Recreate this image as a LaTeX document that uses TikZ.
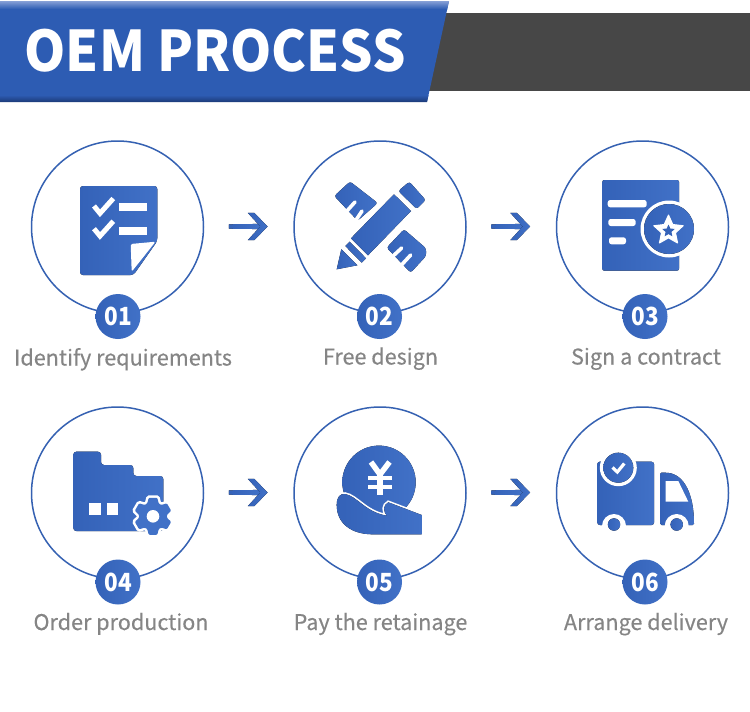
\documentclass[tikz,border=0pt]{standalone}
\usepackage{fontspec}
\setmainfont{Noto Sans CJK SC}
\newfontfamily\capfont[FakeBold=0.3]{Noto Sans CJK SC}
\usetikzlibrary{calc,shapes.geometric}
\definecolor{bluea}{HTML}{3462B8}
\definecolor{blueb}{HTML}{4171C7}
\definecolor{ringc}{HTML}{3561B2}
\definecolor{bannerc}{HTML}{2D5CB3}
\definecolor{bannertop}{HTML}{86A0D6}
\definecolor{bannerlow}{HTML}{1C3A78}
\definecolor{greybar}{HTML}{474747}
\definecolor{labelc}{HTML}{858585}
\newcommand{\gearoutline}{(-114:14) \foreach \a in {-90,-30,...,210}{ -- ({\a-24}:14) -- ({\a-13}:19) -- ({\a+13}:19) -- ({\a+24}:14) } -- cycle}
\newcommand{\handoutline}{(336.7,505) .. controls (336.7,497) and (340,493.5) .. (345,494) .. controls (357,496) and (365,512) .. (386.7,515.7) .. controls (383,511) and (383,505) .. (388.3,502.3) -- (421.7,515) -- (421.7,534.3) -- (371.7,534.3) .. controls (352,534) and (336.7,524) .. cycle}
\tikzset{
  x=1pt,y=-1pt,
  grad/.style={left color=bluea,right color=blueb,draw=none},
  ringnode/.style={circle,draw=ringc,line width=1.5pt,minimum size=172pt,inner sep=0pt,fill=white},
  badge/.style={circle,left color=bluea,right color=blueb,minimum size=45pt,inner sep=0pt,text=white,font=\fontsize{25}{28}\selectfont\bfseries},
  caption/.style={anchor=base,text=labelc,inner sep=0pt,font=\fontsize{21.6}{26}\selectfont\capfont},
  whitebar/.style={fill=white,rounded corners=2.5pt},
  whiteline/.style={draw=white,line cap=round,line join=round},
  arrowglyph/.pic={
    \fill[left color=bluea,right color=blueb] (-19.5,-2.2) -- (12,-2.6) -- (12,2.6) -- (-19.5,2.2) -- cycle;
    \fill[left color=bluea,right color=blueb] (-0.5,-13.7) -- (6,-13.7) -- (19.3,0) -- (6,13.7) -- (-0.5,13.7) -- (12,0) -- cycle;
  }
}
\begin{document}
\begin{tikzpicture}
\useasboundingbox (0,0) rectangle (750,712);
\fill[white] (0,0) rectangle (750,712);
% banner
\fill[greybar] (425,13) rectangle (750,91);
\begin{scope}
  \clip (0,1) -- (449,1) -- (427,102) -- (0,102) -- cycle;
  \fill[bannerc] (0,1) rectangle (450,102);
  \shade[top color=bannertop,bottom color=bannerc] (0,1) rectangle (450,9);
  \shade[top color=bannerc,bottom color=bannerlow] (0,95) rectangle (450,102);
\end{scope}
\node[anchor=base west,inner sep=0pt,text=white,font=\fontsize{56}{60}\selectfont\bfseries] (title) at (24.5,71.5) {\scalebox{0.938}[1]{OEM PROCESS}};
% rings
\node[ringnode] (c1) at (117.5,227) {};
\node[ringnode] (c2) at (380,227) {};
\node[ringnode] (c3) at (642.5,227) {};
\node[ringnode] (c4) at (117.5,493) {};
\node[ringnode] (c5) at (380,493) {};
\node[ringnode] (c6) at (642.5,493) {};
% badges
\node[badge] (n1) at (118,316.5) {\scalebox{0.9}[1]{01}};
\node[badge] (n2) at (379.5,316.5) {\scalebox{0.9}[1]{02}};
\node[badge] (n3) at (645,316.5) {\scalebox{0.9}[1]{03}};
\node[badge] (n4) at (118,582) {\scalebox{0.9}[1]{04}};
\node[badge] (n5) at (379.5,582) {\scalebox{0.9}[1]{05}};
\node[badge] (n6) at (645,582) {\scalebox{0.9}[1]{06}};
% captions
\node[caption] (t1) at (123,365.5) {Identify requirements};
\node[caption] (t2) at (380.5,364.5) {Free design};
\node[caption] (t3) at (646,364.5) {Sign a contract};
\node[caption] (t4) at (121,630) {Order production};
\node[caption] (t5) at (380.5,630) {Pay the retainage};
\node[caption] (t6) at (646,630) {Arrange delivery};
% arrows
\pic at ($(c1)!0.5!(c2)+(-0.5,-0.5)$) {arrowglyph};
\pic at ($(c2)!0.5!(c3)+(-0.5,-0.5)$) {arrowglyph};
\pic at ($(c4)!0.5!(c5)+(-0.5,-0.5)$) {arrowglyph};
\pic at ($(c5)!0.5!(c6)+(-0.5,-0.5)$) {arrowglyph};
% icon 1: checklist
\fill[grad,rounded corners=3pt] (80,186) -- (157.3,186) -- (157.3,241) -- (133.5,275) -- (80,275) -- cycle;
\fill[white,rounded corners=1.5pt] (130.7,244) -- (155.5,241.7) -- (131.7,271.7) -- cycle;
\draw[white,line width=5pt,line join=miter] (94,206) -- (100,213.3) -- (113.3,198.5);
\draw[white,line width=5pt,line join=miter] (94,228.7) -- (100,236) -- (113.3,221.2);
\fill[white] (119.3,202.7) rectangle (146.7,210.7);
\fill[white] (119.3,226.7) rectangle (146.7,234.7);
% icon 2: pencil and rulers
\fill[grad,rounded corners=2.5pt] (334.3,196) -- (350,181.5) -- (377.7,203) -- (357.7,220.7) -- cycle;
\fill[grad,rounded corners=2.5pt] (386.7,247.7) -- (404,229.3) -- (426,248.3) -- (426,256) -- (410.7,272.7) -- cycle;
\draw[whiteline,line width=3.6pt] (346,212) -- (355,202);
\draw[whiteline,line width=3.6pt] (355,221.5) -- (362,211);
\draw[whiteline,line width=3.6pt] (392,257) -- (401.7,248);
\draw[whiteline,line width=3.6pt] (401,265.5) -- (410.7,255);
\fill[grad] (394,194.3) -- (411,211) -- (368,255.3) -- (351,238.3) -- cycle;
\fill[grad] (345.3,246) -- (349.7,241.7) -- (366,258.3) -- (361.7,262.7) -- cycle;
\fill[grad] (336.7,269.3) -- (341.3,249.3) -- (357.3,265.3) -- cycle;
\fill[grad,rounded corners=2.5pt] (409.3,181.7) -- (425.7,200) -- (416.7,209) -- (398.3,191) -- cycle;
% icon 3: contract
\fill[grad,rounded corners=2pt] (602.3,180) rectangle (679,270.7);
\fill[whitebar] (607.7,200) rectangle (646.7,207.3);
\fill[whitebar] (608.3,219) rectangle (635.7,226);
\fill[whitebar] (609,237.3) rectangle (626,244.3);
\fill[white] (669,229) circle (28.5);
\fill[grad] (669,229) circle (25);
\node[star,star points=5,star point ratio=2.1,fill=white,draw=white,line join=round,line width=1pt,inner sep=0pt,minimum size=31pt] (s1) at (668.5,230.5) {};
\node[star,star points=5,star point ratio=2.1,fill=bluea,inner sep=0pt,minimum size=13pt] (s2) at (668.5,231) {};
% icon 4: factory folder
\fill[grad,rounded corners=3pt] (73.3,451.7) -- (101,451.7) -- (101,465) -- (133.3,465) -- (133.3,476) -- (163.3,476) -- (163.3,531) -- (73.3,531) -- cycle;
\fill[white] (89,503.3) rectangle (101,515);
\fill[white] (106.7,503.3) rectangle (118.3,515);
\fill[white] (163.6,501) rectangle (175,537);
\begin{scope}[shift={(153,516.3)}]
  \filldraw[draw=white,fill=white,line width=5pt,line join=round] \gearoutline;
  \fill[blueb,rounded corners=1pt] \gearoutline;
  \fill[white] (0,0) circle (6.3);
\end{scope}
% icon 5: coin and hand
\fill[grad] (379,482.3) circle (36.7);
\draw[white,line width=5.5pt,line cap=butt,line join=miter] (371,462) -- (380,474.5) -- (389.5,462);
\draw[white,line width=5.5pt] (380,472) -- (380,495);
\draw[white,line width=4pt] (368,478) -- (392,478);
\draw[white,line width=4pt] (368,486.5) -- (392,486.5);
\draw[white,line width=3.5pt] \handoutline;
\fill[left color=bluea,right color=blueb] \handoutline;
% icon 6: truck
\fill[grad,rounded corners=2.5pt] (597.3,461.7) -- (654,461.7) -- (654,525) -- (597.3,525) -- cycle;
\fill[grad,rounded corners=1.5pt] (660,472.7) -- (666,472.7) .. controls (684,474) and (694,494) .. (694,525) -- (660,525) -- cycle;
\fill[white] (665.7,481) -- (678.3,481) -- (688.3,501.7) -- (665.7,501.7) -- cycle;
\fill[white] (614,526) circle (12);
\fill[white] (676.7,526) circle (12);
\fill[grad] (614,524.5) circle (6.2);
\fill[grad] (676.7,524.5) circle (6.2);
\fill[white] (618.3,467.7) circle (18.5);
\fill[grad] (618.3,467.7) circle (15);
\draw[white,line width=3.2pt] (612.5,467.5) -- (617.3,472) -- (624.3,463.5);
\end{tikzpicture}
\end{document}
